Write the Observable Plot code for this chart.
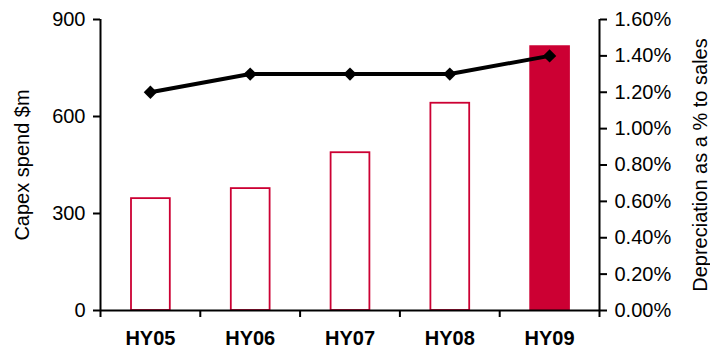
<!DOCTYPE html>
<html>
<head>
<meta charset="utf-8">
<script src="https://cdn.jsdelivr.net/npm/d3@7"></script>
<script src="https://cdn.jsdelivr.net/npm/@observablehq/plot@0.6"></script>
<style>
  html, body { margin: 0; padding: 0; background: #fff; }
  #chart svg { display: block; }
</style>
</head>
<body>
<div id="chart"></div>
<script>
const categories = ["HY05", "HY06", "HY07", "HY08", "HY09"];
const capex = [346, 377, 488, 641, 816];
const deprPct = [1.2, 1.3, 1.3, 1.3, 1.4];
const highlighted = [false, false, false, false, true];
const leftTicks = [0, 300, 600, 900];
const rightTicks = [0, 0.2, 0.4, 0.6, 0.8, 1.0, 1.2, 1.4, 1.6];
const rightTickLabels = ["0.00%", "0.20%", "0.40%", "0.60%", "0.80%", "1.00%", "1.20%", "1.40%", "1.60%"];
const leftTitle = "Capex spend $m";
const rightTitle = "Depreciation as a % to sales";

const leftMax = 900, rightMax = 1.6;
const f = leftMax / rightMax; // map right axis onto left scale

const data = categories.map((c, i) => ({
  cat: c, i, capex: capex[i], pct: deprPct[i], hl: highlighted[i]
}));

const red = "#cc0033";

const chart = Plot.plot({
  width: 710,
  height: 353,
  marginLeft: 100,
  marginRight: 111,
  marginTop: 19,
  marginBottom: 43,
  style: { fontFamily: "'Liberation Sans', Arial, sans-serif", fontSize: "20px", color: "#000", background: "#fff" },
  x: { type: "linear", domain: [0, categories.length], axis: null },
  y: { domain: [0, leftMax], axis: null },
  marks: [
    Plot.rectY(data, {
      x1: d => d.i, x2: d => d.i + 1, y1: 0, y2: "capex",
      insetLeft: 31, insetRight: 30,
      fill: d => d.hl ? red : "white",
      stroke: red, strokeWidth: 1.8
    }),
    Plot.ruleX([0], { stroke: "black", strokeWidth: 2 }),
    Plot.ruleX([categories.length], { stroke: "black", strokeWidth: 2 }),
    Plot.ruleY([0], { stroke: "black", strokeWidth: 2 }),
    Plot.axisY({ anchor: "left", ticks: leftTicks, tickSize: 7, tickPadding: 8, label: null, strokeWidth: 2, fontSize: 20 }),
    Plot.axisY({ anchor: "right", ticks: rightTicks.map(v => v * f), tickFormat: (d, i) => rightTickLabels[i], tickSize: 7, tickPadding: 8, label: null, strokeWidth: 2, fontSize: 20 }),
    Plot.axisX({ ticks: d3.range(categories.length + 1), tickFormat: () => "", tickSize: 7, label: null, strokeWidth: 2 }),
    Plot.axisX({ ticks: categories.map((c, i) => i + 0.5), tickFormat: (d, i) => categories[i], tickSize: 0, tickPadding: 20, label: null, fontWeight: "bold", fontSize: 20 }),
    Plot.line(data, { x: d => d.i + 0.5, y: d => d.pct * f, stroke: "black", strokeWidth: 4 }),
    Plot.dot(data, { x: d => d.i + 0.5, y: d => d.pct * f, symbol: "diamond2", r: 6, fill: "black", stroke: "none" }),
    Plot.text([leftTitle], { frameAnchor: "left", textAnchor: "middle", dx: -78, rotate: -90, fontSize: 20, fill: "black" }),
    Plot.text([rightTitle], { frameAnchor: "right", textAnchor: "middle", dx: 101, rotate: -90, fontSize: 20, fill: "black" })
  ]
});
document.getElementById("chart").appendChild(chart);
</script>
</body>
</html>
